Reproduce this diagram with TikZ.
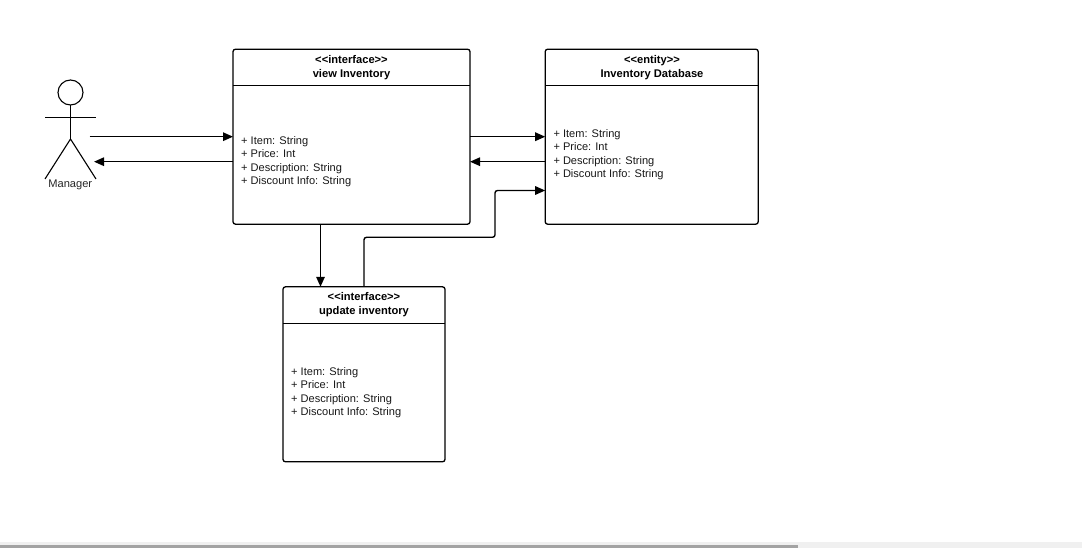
\documentclass[tikz,border=0pt]{standalone}
\usepackage{fontspec}
\setmainfont{Liberation Sans}
\usetikzlibrary{arrows.meta,calc}
\tikzset{
  x=1pt,y=-1pt,
  umlbox/.style={draw=black,line width=1.3pt,rounded corners=2.5pt,inner sep=0pt,outer sep=0pt},
  divider/.style={draw=black,line width=1.3pt},
  titletext/.style={font=\fontsize{11.15}{13.7}\selectfont\bfseries,align=center,inner sep=0pt},
  attrtext/.style={font=\fontsize{11.05}{13.4}\selectfont,align=left,anchor=west,inner sep=0pt,text=black!90},
  conn/.style={draw=black,line width=1.4pt,-{Triangle[length=10pt,width=8.5pt]},rounded corners=2.5pt},
  limb/.style={draw=black,line width=1.1pt},
  barbg/.style={fill=black!6,draw=none},
  barfg/.style={fill=black!36,draw=none}
}
\begin{document}
\begin{tikzpicture}
\useasboundingbox (0,0) rectangle (1082,548);
\fill[white] (0,0) rectangle (1082,548);
% scrollbar
\path[barbg] (0,542) rectangle (1082,548);
\path[barfg] (0,544.6) rectangle (798,548);
% boxes
\node[umlbox,minimum width=237pt,minimum height=175pt] (view) at (351.5,136.7) {};
\node[umlbox,minimum width=213pt,minimum height=175pt] (db) at (651.7,136.7) {};
\node[umlbox,minimum width=162pt,minimum height=175pt] (update) at (364,374.3) {};
% dividers
\draw[divider] ($(view.north west)+(0,36.6)$) -- ($(view.north east)+(0,36.6)$);
\draw[divider] ($(db.north west)+(0,36.6)$) -- ($(db.north east)+(0,36.6)$);
\draw[divider] ($(update.north west)+(0,36.5)$) -- ($(update.north east)+(0,36.5)$);
% titles
\node[titletext] (viewtitle) at (351.5,67.6) {<{}<interface>{}>\\view Inventory};
\node[titletext] (dbtitle) at (652,67.6) {<{}<entity>{}>\\Inventory Database};
\node[titletext] (updatetitle) at (364,304.9) {<{}<interface>{}>\\update inventory};
% attributes
\node[attrtext] (viewattrs) at (241,161.7) {+ Item: String\\+ Price: Int\\+ Description: String\\+ Discount Info: String};
\node[attrtext] (dbattrs) at (553.3,154.7) {+ Item: String\\+ Price: Int\\+ Description: String\\+ Discount Info: String};
\node[attrtext] (updateattrs) at (291,392.7) {+ Item: String\\+ Price: Int\\+ Description: String\\+ Discount Info: String};
% actor
\node[draw=black,line width=1.1pt,circle,minimum size=25pt,inner sep=0pt,outer sep=0pt] (head) at (70.5,92.5) {};
\coordinate (hip) at (70.5,139);
\coordinate (armL) at (45,117.4);
\coordinate (armR) at (96,117.4);
\coordinate (footL) at (45,179);
\coordinate (footR) at (96,179);
\draw[limb] (head.south) -- (hip);
\draw[limb] (armL) -- (armR);
\draw[limb] (footL) -- (hip) -- (footR);
\node[font=\fontsize{11.1}{13}\selectfont,inner sep=0pt,text=black!85] (manager) at (70.3,185) {Manager};
% connectors
\coordinate (mgrOut) at (89.5,136.7);
\coordinate (mgrIn) at (94,161.7);
\draw[conn] (mgrOut) -- (view.west);
\draw[conn] ($(view.west)+(0,25)$) -- (mgrIn);
\draw[conn] (view.east) -- (db.west);
\draw[conn] ($(db.west)+(0,25)$) -- ($(view.east)+(0,25)$);
\draw[conn] ($(view.south)+(-31,0)$) -- ($(update.north)+(-43.5,0)$);
\draw[conn] (update.north) -- ++(0,-49.5) -| ($(db.west)+(-50.2,53.8)$) -- ($(db.west)+(0,53.8)$);
\end{tikzpicture}
\end{document}
